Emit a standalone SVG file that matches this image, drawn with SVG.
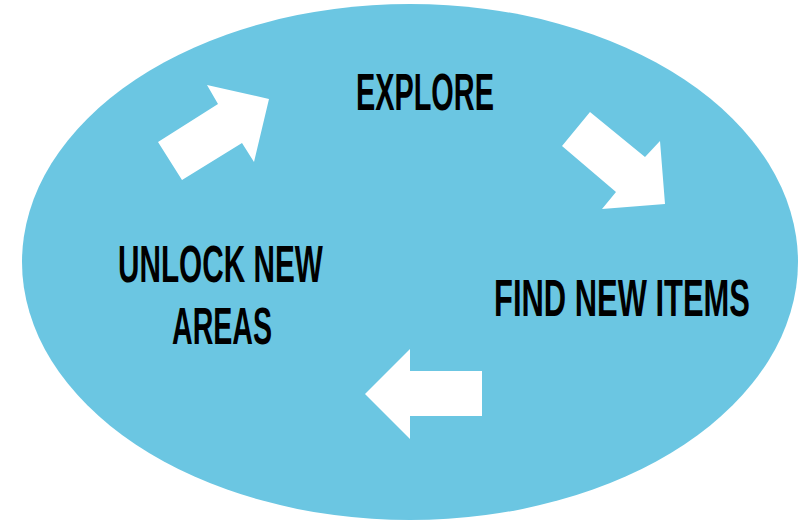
<svg xmlns="http://www.w3.org/2000/svg" width="805" height="522" viewBox="0 0 805 522">
<style>
.lbl{font-family:"Liberation Sans","DejaVu Sans",sans-serif;font-weight:bold;font-size:52px;fill:#000}
.arr{fill:#fff}
</style>
<rect width="805" height="522" fill="#fff"/>
<ellipse cx="410" cy="262" rx="388" ry="258" fill="#6BC6E2"/>
<g id="explore"><text class="lbl" transform="translate(356,110) scale(0.555,1)">EXPLORE</text></g>
<g id="find"><text class="lbl" transform="translate(494,316) scale(0.595,1)">FIND NEW ITEMS</text></g>
<g id="unlock"><text class="lbl" transform="translate(118,282) scale(0.572,1)">UNLOCK NEW</text><text class="lbl" transform="translate(172,344) scale(0.55,1)">AREAS</text></g>
<g id="connectors">
<polygon class="arr" points="158,142 218,104 207,85 269,99 254,162 242,143 182,180"/>
<polygon class="arr" points="562,146 590,112 645,157 660,141 665,204 602,209 616,192"/>
<polygon class="arr" points="365,394 410,349 410,371 482,371 482,416 410,416 410,439"/>
</g>
</svg>
